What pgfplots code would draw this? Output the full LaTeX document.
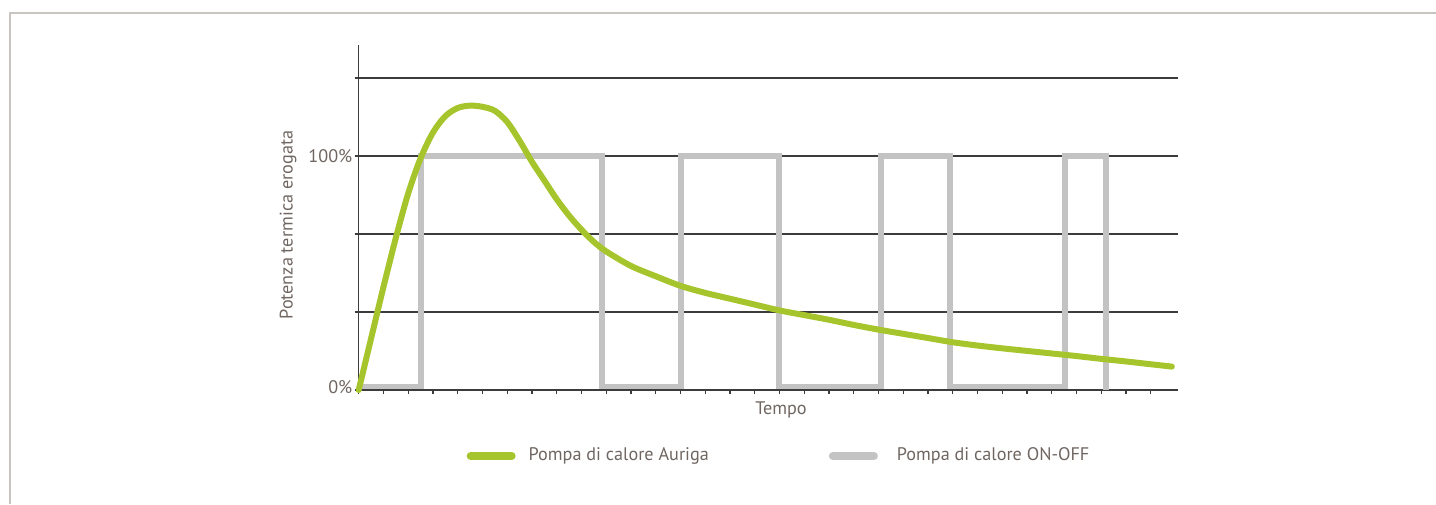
\documentclass[border=0pt]{standalone}
\usepackage{pgfplots}
\pgfplotsset{compat=1.18}
\usepackage{fontspec}
\setmainfont{PT Sans}
\definecolor{auriga}{RGB}{166,196,43}
\definecolor{onoff}{RGB}{195,195,195}
\definecolor{txt}{RGB}{112,102,97}
\definecolor{grd}{RGB}{60,60,60}
\definecolor{frame}{RGB}{200,196,192}

\begin{document}
\begin{tikzpicture}[x=0.5pt,y=0.5pt]
\useasboundingbox (0,0) rectangle (1436,504);
% light frame (top and left edges)
\draw[frame, line width=0.75pt] (10,0) -- (10,491) -- (1436,491);
\begin{axis}[
    at={(179.35pt,57pt)}, anchor=south west,
    scale only axis, width=409.65pt, height=172.5pt,
    xmin=0, xmax=33.1, ymin=0, ymax=147.4,
    axis lines=left, axis line style={-, grd, line width=0.6pt},
    xtick={0,...,32}, xticklabels={},
    ytick={0,33.33,66.67,100,133.33},
    yticklabels={\raisebox{3pt}{0\%},,,100\%,},
    tick align=outside, major tick length=2pt,
    tick style={grd, line width=0.6pt},
    ymajorgrids, grid style={grd, line width=0.6pt},
    font=\fontsize{9.1pt}{11pt}\selectfont\color{txt},
    /pgf/number format/assume math mode=true,
    yticklabel style={inner sep=1pt},
    xlabel={Tempo},
    xlabel style={at={(axis description cs:0.5154,-0.058)}, anchor=center},
    ylabel={Potenza termica erogata},
    ylabel style={at={(axis description cs:-0.0863,0.478)}, anchor=center, rotate=0},
    clip=false,
    legend columns=2, reverse legend,
    legend style={at={(axis description cs:0.1313,-0.1913)}, anchor=west,
        draw=none, fill=none, inner sep=0pt, column sep=6.5pt,
        nodes={inner sep=0pt},
        /tikz/column 2/.append style={column sep=60pt},
        /tikz/column 3/.append style={column sep=9.5pt}},
    legend image code/.code={\draw[#1, line width=4pt, line cap=round] (0pt,0pt) -- (20.5pt,0pt);},
]
\addplot[onoff, line width=2.8pt] coordinates {
    (0,1.5) (2.52,1.5) (2.52,100) (9.82,100) (9.82,1.5) (13.02,1.5) (13.02,100)
    (16.99,100) (16.99,1.5) (21.1,1.5) (21.1,100) (23.89,100) (23.89,1.5)
    (28.54,1.5) (28.54,100) (30.18,100) (30.18,0)
};
\addlegendentry{Pompa di calore ON-OFF}
\addplot[auriga, line width=3pt, line cap=round, smooth] coordinates {
    (0,0) (0.5,22) (1.0,44) (1.5,65) (2.0,84) (2.5,99) (3.0,110)
    (3.5,117) (4.0,120.5) (4.5,121.5) (5.0,121) (5.5,119.3) (6.0,114.5)
    (6.5,106.5) (7.0,97.5) (7.5,89.5) (8.0,81.5) (8.5,74.5) (9.0,68.5)
    (9.5,63.3) (10,59.2) (11,53) (12,48.6) (13,44.5) (14,41.5) (15,39)
    (16,36.5) (17,34) (18,32) (19,30) (20,27.8) (21,25.8) (22,24)
    (23,22.2) (24,20.4) (25,19) (26,17.8) (27,16.7) (28,15.6) (29,14.5)
    (30,13.3) (31,12.2) (32,11) (32.85,10)
};
\addlegendentry{Pompa di calore Auriga}
\end{axis}
\end{tikzpicture}
\end{document}
